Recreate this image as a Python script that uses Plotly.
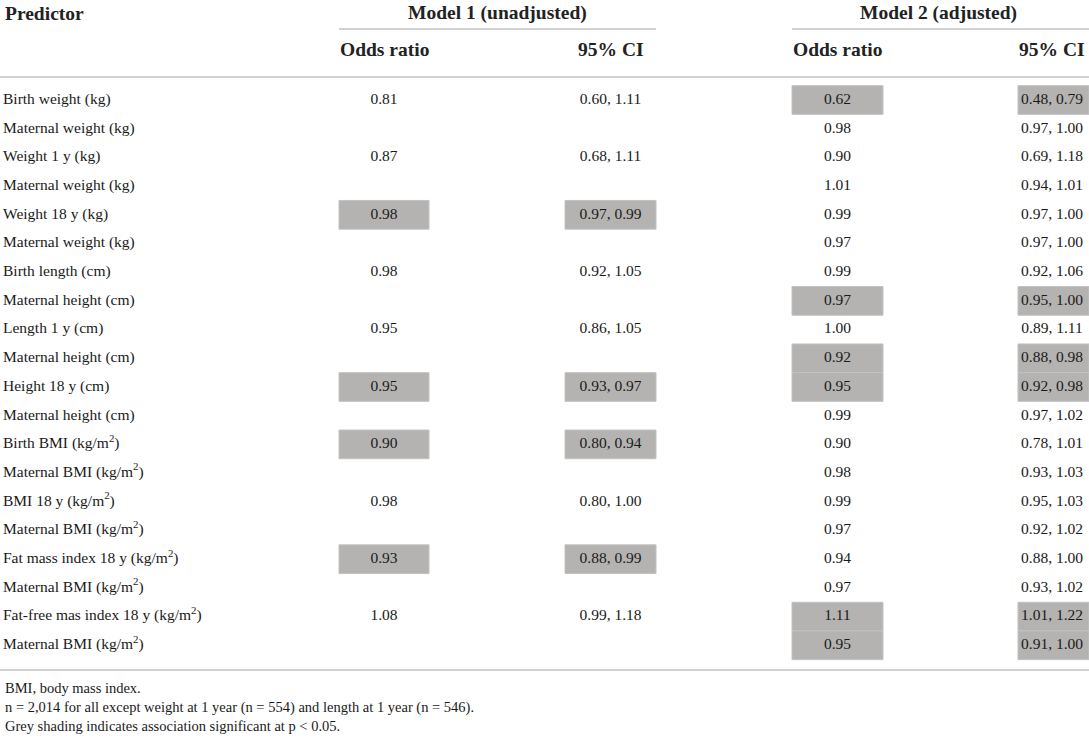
import plotly.graph_objects as go

# table contents
predictors = [
    "Birth weight (kg)", "Maternal weight (kg)", "Weight 1 y (kg)", "Maternal weight (kg)",
    "Weight 18 y (kg)", "Maternal weight (kg)", "Birth length (cm)", "Maternal height (cm)",
    "Length 1 y (cm)", "Maternal height (cm)", "Height 18 y (cm)", "Maternal height (cm)",
    "Birth BMI (kg/m<sup>2</sup>)", "Maternal BMI (kg/m<sup>2</sup>)",
    "BMI 18 y (kg/m<sup>2</sup>)", "Maternal BMI (kg/m<sup>2</sup>)",
    "Fat mass index 18 y (kg/m<sup>2</sup>)", "Maternal BMI (kg/m<sup>2</sup>)",
    "Fat-free mas index 18 y (kg/m<sup>2</sup>)", "Maternal BMI (kg/m<sup>2</sup>)",
]
m1_or = ["0.81", "", "0.87", "", "0.98", "", "0.98", "", "0.95", "", "0.95", "",
         "0.90", "", "0.98", "", "0.93", "", "1.08", ""]
m1_ci = ["0.60, 1.11", "", "0.68, 1.11", "", "0.97, 0.99", "", "0.92, 1.05", "",
         "0.86, 1.05", "", "0.93, 0.97", "", "0.80, 0.94", "", "0.80, 1.00", "",
         "0.88, 0.99", "", "0.99, 1.18", ""]
m2_or = ["0.62", "0.98", "0.90", "1.01", "0.99", "0.97", "0.99", "0.97", "1.00", "0.92",
         "0.95", "0.99", "0.90", "0.98", "0.99", "0.97", "0.94", "0.97", "1.11", "0.95"]
m2_ci = ["0.48, 0.79", "0.97, 1.00", "0.69, 1.18", "0.94, 1.01", "0.97, 1.00", "0.97, 1.00",
         "0.92, 1.06", "0.95, 1.00", "0.89, 1.11", "0.88, 0.98", "0.92, 0.98", "0.97, 1.02",
         "0.78, 1.01", "0.93, 1.03", "0.95, 1.03", "0.92, 1.02", "0.88, 1.00", "0.93, 1.02",
         "1.01, 1.22", "0.91, 1.00"]
# rows with p < 0.05 (shaded)
m1_sig = [4, 10, 12, 16]
m2_sig = [0, 7, 9, 10, 18, 19]

group_headers = ["Model 1 (unadjusted)", "Model 2 (adjusted)"]
sub_headers = ["Odds ratio", "95% CI", "Odds ratio", "95% CI"]
footnotes = [
    "BMI, body mass index.",
    "n = 2,014 for all except weight at 1 year (n = 554) and length at 1 year (n = 546).",
    "Grey shading indicates association significant at p < 0.05.",
]

# layout (pixels)
W, H = 1089, 738
FONT = "Liberation Serif"
TXT = "#1a1a1a"
ROW0, ROW_H = 100, 28.7
col_x = [384, 610.5, 837.5, 1052]
col_box = [(339, 429), (565, 656), (792, 883), (1018, 1089)]
rows_y = [ROW0 + ROW_H * i for i in range(len(predictors))]

fig = go.Figure()

# shaded cells
shapes = []
for ci, sig in [(0, m1_sig), (1, m1_sig), (2, m2_sig), (3, m2_sig)]:
    x0, x1 = col_box[ci]
    for r in sig:
        shapes.append(dict(type="rect", xref="x", yref="y", x0=x0, x1=x1,
                           y0=rows_y[r] - ROW_H / 2, y1=rows_y[r] + ROW_H / 2,
                           fillcolor="#b4b3b1", line=dict(color="#c2c2c2", width=1),
                           layer="below"))

# rules
rule = dict(color="#d2d2d2", width=2)
shapes += [
    dict(type="line", xref="x", yref="y", x0=339, x1=656, y0=29, y1=29, line=rule),
    dict(type="line", xref="x", yref="y", x0=792, x1=1089, y0=29, y1=29, line=rule),
    dict(type="line", xref="x", yref="y", x0=0, x1=W, y0=77, y1=77, line=rule),
    dict(type="line", xref="x", yref="y", x0=0, x1=W, y0=670, y1=670, line=rule),
]

# predictor labels
fig.add_trace(go.Scatter(x=[3] * len(predictors), y=rows_y, text=predictors,
                         mode="text", textposition="middle right",
                         textfont=dict(family=FONT, size=15.5, color=TXT),
                         hoverinfo="skip"))
# value columns (skip blank cells)
for ci, vals in enumerate([m1_or, m1_ci, m2_or, m2_ci]):
    ys = [rows_y[i] for i, v in enumerate(vals) if v]
    ts = [v for v in vals if v]
    fig.add_trace(go.Scatter(x=[col_x[ci]] * len(ts), y=ys, text=ts,
                             mode="text", textposition="middle center",
                             textfont=dict(family=FONT, size=15.5, color=TXT),
                             hoverinfo="skip"))

hdr = dict(family=FONT, size=19.5, color="#222222")
annotations = [dict(x=3, y=13, text="<b>Predictor</b>", xanchor="left")]
for gx, g in zip([497.5, 938.5], group_headers):
    annotations.append(dict(x=gx, y=13, text="<b>%s</b>" % g, xanchor="center"))
for cx, s in zip(col_x, sub_headers):
    annotations.append(dict(x=cx, y=49, text="<b>%s</b>" % s, xanchor="center"))
for fy, f in zip([688, 707, 726], footnotes):
    annotations.append(dict(x=3, y=fy, text=f, xanchor="left",
                            font=dict(family=FONT, size=14.5, color=TXT)))
for a in annotations:
    a.update(xref="x", yref="y", yanchor="middle", showarrow=False)
    a.setdefault("font", hdr)

fig.update_layout(
    width=W, height=H,
    margin=dict(l=0, r=0, t=0, b=0),
    paper_bgcolor="white", plot_bgcolor="white",
    showlegend=False,
    shapes=shapes, annotations=annotations,
    xaxis=dict(range=[0, W], visible=False, fixedrange=True),
    yaxis=dict(range=[H, 0], visible=False, fixedrange=True),
)

# drop the default page margin so the table sits flush like the reference
fig.write_html("out.html", config={"displayModeBar": False},
               post_script="document.body.style.margin='0';document.body.style.overflow='hidden';")
